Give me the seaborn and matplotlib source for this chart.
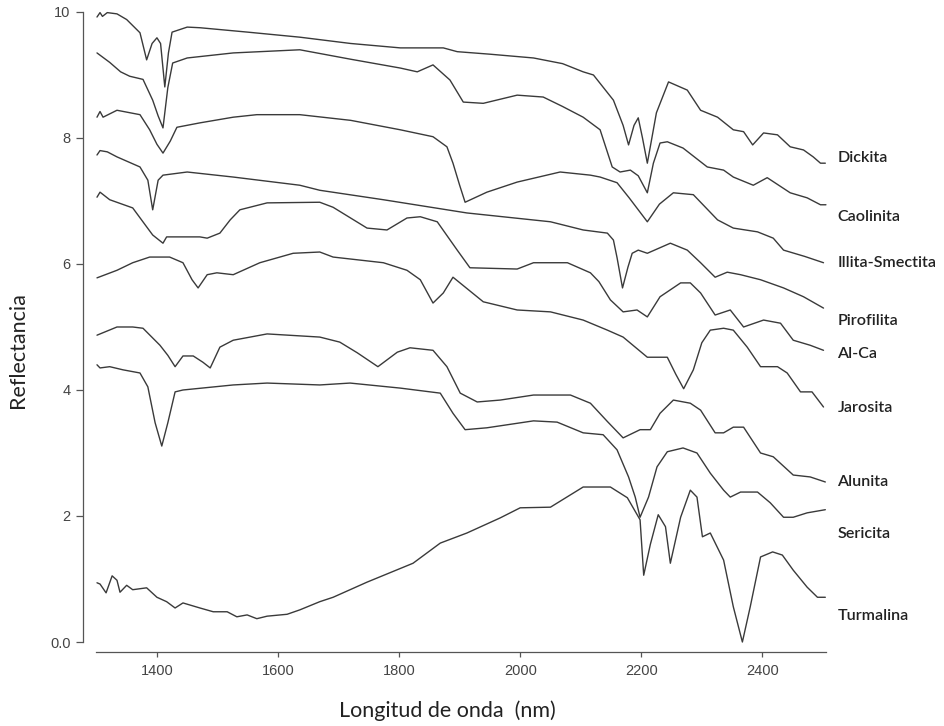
import pandas as pd
import seaborn as sns
import matplotlib.pyplot as plt

# Spectra (wavelength in nm, reflectance offset units)
dickita_nm = [1301, 1306, 1310, 1318, 1334, 1350, 1372, 1383, 1392, 1400, 1406, 1413, 1419, 1425,
              1450, 1471, 1550, 1636, 1720, 1802, 1873, 1896, 1950, 2022, 2070, 2104, 2121, 2154,
              2170, 2179, 2188, 2195, 2202, 2210, 2225, 2245, 2276, 2298, 2326, 2352, 2369, 2384,
              2402, 2425, 2446, 2468, 2484, 2496, 2504]
dickita_r = [9.92, 9.99, 9.93, 9.99, 9.97, 9.88, 9.67, 9.24, 9.50, 9.59, 9.50, 8.81, 9.35, 9.68,
             9.76, 9.75, 9.68, 9.60, 9.50, 9.43, 9.43, 9.37, 9.33, 9.27, 9.18, 9.05, 9.00, 8.60,
             8.20, 7.89, 8.20, 8.32, 8.00, 7.60, 8.40, 8.89, 8.76, 8.44, 8.33, 8.13, 8.10, 7.89,
             8.08, 8.05, 7.86, 7.81, 7.70, 7.60, 7.60]

caolinita_nm = [1301, 1322, 1340, 1355, 1377, 1393, 1402, 1410, 1418, 1426, 1450, 1526, 1636, 1720,
                1802, 1830, 1856, 1884, 1906, 1939, 1995, 2038, 2070, 2104, 2132, 2152, 2165, 2182,
                2195, 2210, 2220, 2231, 2243, 2269, 2309, 2336, 2352, 2385, 2408, 2446, 2474, 2496,
                2505]
caolinita_r = [9.35, 9.20, 9.05, 8.98, 8.93, 8.60, 8.35, 8.16, 8.80, 9.19, 9.27, 9.35, 9.40, 9.25,
               9.11, 9.05, 9.16, 8.92, 8.57, 8.55, 8.68, 8.65, 8.50, 8.33, 8.13, 7.54, 7.46, 7.49,
               7.40, 7.13, 7.60, 7.92, 7.94, 7.84, 7.54, 7.49, 7.38, 7.25, 7.37, 7.13, 7.05, 6.94,
               6.94]

illita_nm = [1301, 1306, 1311, 1334, 1372, 1388, 1400, 1410, 1422, 1433, 1471, 1526, 1565, 1636,
             1720, 1802, 1856, 1879, 1889, 1900, 1909, 1945, 1995, 2066, 2116, 2132, 2160, 2180,
             2210, 2230, 2253, 2286, 2326, 2352, 2392, 2418, 2435, 2470, 2501]
illita_r = [8.33, 8.42, 8.33, 8.44, 8.37, 8.13, 7.90, 7.76, 7.95, 8.17, 8.24, 8.33, 8.37, 8.37,
            8.28, 8.13, 8.02, 7.86, 7.60, 7.25, 6.98, 7.14, 7.30, 7.46, 7.41, 7.38, 7.29, 7.05,
            6.67, 6.95, 7.13, 7.10, 6.70, 6.57, 6.51, 6.41, 6.22, 6.12, 6.02]

pirofilita_nm = [1301, 1306, 1318, 1334, 1372, 1385, 1393, 1402, 1410, 1450, 1526, 1636, 1669, 1774,
                 1912, 2050, 2104, 2144, 2154, 2160, 2169, 2178, 2185, 2195, 2210, 2248, 2276, 2298,
                 2322, 2342, 2364, 2397, 2435, 2468, 2501]
pirofilita_r = [7.73, 7.80, 7.78, 7.70, 7.54, 7.33, 6.86, 7.33, 7.41, 7.46, 7.38, 7.25, 7.17, 7.02,
                6.81, 6.67, 6.54, 6.49, 6.38, 6.10, 5.62, 5.95, 6.17, 6.22, 6.17, 6.33, 6.22, 6.02,
                5.79, 5.87, 5.83, 5.75, 5.62, 5.48, 5.30]

alca_nm = [1301, 1306, 1322, 1360, 1383, 1393, 1410, 1416, 1471, 1483, 1504, 1521, 1537, 1582,
           1669, 1691, 1747, 1780, 1813, 1835, 1863, 1896, 1917, 1995, 2022, 2078, 2116, 2130,
           2149, 2170, 2193, 2210, 2231, 2265, 2281, 2298, 2322, 2347, 2369, 2402, 2430, 2451,
           2479, 2501]
alca_r = [7.06, 7.14, 7.02, 6.89, 6.59, 6.46, 6.33, 6.43, 6.43, 6.41, 6.49, 6.70, 6.86, 6.97,
          6.98, 6.90, 6.57, 6.54, 6.73, 6.75, 6.67, 6.22, 5.94, 5.92, 6.02, 6.02, 5.86, 5.72,
          5.43, 5.24, 5.27, 5.16, 5.48, 5.70, 5.70, 5.54, 5.19, 5.27, 5.00, 5.11, 5.06, 4.79,
          4.71, 4.63]

jarosita_nm = [1301, 1334, 1360, 1388, 1421, 1443, 1458, 1468, 1483, 1499, 1526, 1570, 1625, 1669,
               1691, 1774, 1813, 1835, 1856, 1873, 1889, 1939, 1995, 2050, 2104, 2144, 2170, 2210,
               2243, 2257, 2270, 2286, 2300, 2314, 2336, 2352, 2375, 2397, 2425, 2441, 2463, 2482,
               2501]
jarosita_r = [5.78, 5.90, 6.02, 6.11, 6.11, 6.02, 5.75, 5.62, 5.83, 5.86, 5.83, 6.02, 6.17, 6.19,
              6.11, 6.02, 5.90, 5.75, 5.38, 5.54, 5.79, 5.40, 5.27, 5.24, 5.11, 4.95, 4.84, 4.52,
              4.52, 4.25, 4.02, 4.32, 4.75, 4.95, 4.98, 4.95, 4.68, 4.37, 4.37, 4.27, 3.97, 3.97,
              3.73]

alunita_nm = [1301, 1334, 1360, 1377, 1405, 1418, 1430, 1443, 1460, 1476, 1488, 1504, 1526, 1582,
              1669, 1702, 1731, 1765, 1797, 1818, 1856, 1879, 1901, 1929, 1967, 2022, 2083, 2116,
              2144, 2170, 2198, 2215, 2231, 2253, 2281, 2298, 2322, 2336, 2352, 2369, 2397, 2418,
              2451, 2479, 2504]
alunita_r = [4.87, 5.00, 5.00, 4.98, 4.71, 4.55, 4.37, 4.54, 4.54, 4.44, 4.35, 4.68, 4.79, 4.89,
             4.84, 4.76, 4.59, 4.37, 4.60, 4.67, 4.63, 4.37, 3.95, 3.81, 3.84, 3.92, 3.92, 3.79,
             3.50, 3.24, 3.37, 3.37, 3.63, 3.84, 3.79, 3.68, 3.32, 3.32, 3.41, 3.41, 3.00, 2.94,
             2.65, 2.62, 2.54]

sericita_nm = [1301, 1306, 1322, 1344, 1372, 1385, 1397, 1408, 1418, 1430, 1443, 1526, 1582, 1669,
               1719, 1802, 1868, 1889, 1909, 1945, 2022, 2061, 2104, 2137, 2160, 2179, 2190, 2198,
               2212, 2226, 2243, 2269, 2292, 2314, 2336, 2347, 2364, 2392, 2413, 2435, 2451, 2474,
               2504]
sericita_r = [4.40, 4.35, 4.37, 4.32, 4.27, 4.05, 3.48, 3.11, 3.48, 3.97, 4.00, 4.08, 4.11, 4.08,
              4.11, 4.03, 3.95, 3.63, 3.37, 3.40, 3.51, 3.49, 3.32, 3.29, 3.05, 2.62, 2.30, 1.98,
              2.30, 2.78, 3.02, 3.08, 3.00, 2.68, 2.41, 2.30, 2.38, 2.38, 2.21, 1.98, 1.98, 2.05,
              2.10]

turmalina_nm = [1301, 1306, 1316, 1326, 1334, 1339, 1350, 1360, 1383, 1400, 1416, 1430, 1443, 1471,
                1493, 1516, 1532, 1549, 1565, 1582, 1615, 1636, 1669, 1691, 1747, 1823, 1868, 1912,
                1967, 2000, 2050, 2104, 2149, 2177, 2198, 2204, 2215, 2228, 2240, 2248, 2265, 2281,
                2292, 2301, 2314, 2336, 2352, 2367, 2380, 2397, 2417, 2433, 2451, 2474, 2491, 2504]
turmalina_r = [0.94, 0.92, 0.78, 1.05, 0.98, 0.79, 0.90, 0.83, 0.86, 0.71, 0.64, 0.54, 0.62, 0.54,
               0.48, 0.48, 0.40, 0.43, 0.37, 0.41, 0.44, 0.51, 0.64, 0.71, 0.95, 1.25, 1.57, 1.73,
               1.97, 2.13, 2.14, 2.46, 2.46, 2.29, 1.94, 1.06, 1.55, 2.02, 1.83, 1.25, 1.98, 2.41,
               2.30, 1.67, 1.73, 1.30, 0.56, 0.00, 0.56, 1.35, 1.43, 1.38, 1.14, 0.87, 0.71, 0.71]

minerals = ["Dickita", "Caolinita", "Illita-Smectita", "Pirofilita", "Al-Ca",
            "Jarosita", "Alunita", "Sericita", "Turmalina"]
label_y = [7.68, 6.75, 6.02, 5.10, 4.57, 3.71, 2.54, 1.71, 0.41]

curves = {
    "Dickita": (dickita_nm, dickita_r),
    "Caolinita": (caolinita_nm, caolinita_r),
    "Illita-Smectita": (illita_nm, illita_r),
    "Pirofilita": (pirofilita_nm, pirofilita_r),
    "Al-Ca": (alca_nm, alca_r),
    "Jarosita": (jarosita_nm, jarosita_r),
    "Alunita": (alunita_nm, alunita_r),
    "Sericita": (sericita_nm, sericita_r),
    "Turmalina": (turmalina_nm, turmalina_r),
}
df = pd.concat(
    [pd.DataFrame({"nm": v[0], "refl": v[1], "mineral": k}) for k, v in curves.items()],
    ignore_index=True,
)

sns.set_style("ticks")
plt.rcParams["font.family"] = ["Liberation Sans", "DejaVu Sans"]

fig = plt.figure(figsize=(9.45, 7.26), dpi=100)
ax = fig.add_axes([0.102, 0.1157, 0.772, 0.8678])

sns.lineplot(data=df, x="nm", y="refl", units="mineral", estimator=None, sort=False,
             color="#3a3a3a", linewidth=1.0, ax=ax)
for ln in ax.lines:
    ln.set_clip_on(False)
    ln.set_solid_joinstyle("round")

ax.set_xlim(1300, 2505)
ax.set_ylim(0, 10)
ax.set_xticks([1400, 1600, 1800, 2000, 2200, 2400])
ax.set_yticks([0, 2, 4, 6, 8, 10])
ax.set_yticklabels(["0.0", "2", "4", "6", "8", "10"])

for s in ["top", "right"]:
    ax.spines[s].set_visible(False)
ax.spines["left"].set_position(("outward", 10))
ax.spines["bottom"].set_position(("outward", 7.2))
ax.spines["left"].set_bounds(0, 10)
ax.spines["bottom"].set_bounds(1300, 2505)
for s in ["left", "bottom"]:
    ax.spines[s].set_color("#555555")
    ax.spines[s].set_linewidth(0.9)

ax.tick_params(axis="y", direction="out", length=5, width=0.9, color="#555555",
               pad=3.5, labelsize=10.5, labelcolor="#444444")
ax.tick_params(axis="x", direction="out", length=3.6, width=0.9, color="#555555",
               pad=5, labelsize=10.5, labelcolor="#444444")

ax.set_xlabel("Longitud de onda  (nm)", family="Lato", fontsize=15.5, color="#222222")
ax.set_ylabel("Reflectancia", family="Lato", fontsize=15.5, color="#222222")
ax.xaxis.set_label_coords(0.4805, -0.092)
ax.yaxis.set_label_coords(-0.094, 0.463)

for name, yv in zip(minerals, label_y):
    ax.text(2524, yv, name, family="Lato", fontsize=11.6, fontweight="semibold",
            color="#222222", ha="left", va="center", clip_on=False)

fig.savefig("out.png", dpi=100)
